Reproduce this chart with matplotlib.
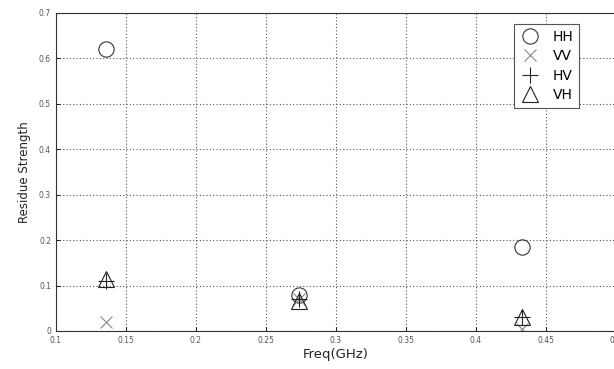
import matplotlib
matplotlib.use("Agg")
import matplotlib.pyplot as plt

freq = [0.136, 0.274, 0.433]
hh = [0.62, 0.08, 0.185]
vv = [0.02, 0.07, 0.005]
hv = [0.11, 0.07, 0.03]
vh = [0.115, 0.065, 0.03]

xticks = [0.1, 0.15, 0.2, 0.25, 0.3, 0.35, 0.4, 0.45, 0.5]
xlabels = ["0.1", "0.15", "0.2", "0.25", "0.3", "0.35", "0.4", "0.45", "0.5"]
yticks = [0, 0.1, 0.2, 0.3, 0.4, 0.5, 0.6, 0.7]
ylabels = ["0", "0.1", "0.2", "0.3", "0.4", "0.5", "0.6", "0.7"]

fig = plt.figure(figsize=(6.14, 3.69), dpi=100)
ax = fig.add_axes([0.091, 0.103, 0.912, 0.862])

ax.plot(freq, hh, linestyle="none", marker="o", ms=11, mfc="none", mec="#333333", mew=0.8, label="HH")
ax.plot(freq, vv, linestyle="none", marker="x", ms=8, color="#888888", mew=0.8, label="VV")
ax.plot(freq, hv, linestyle="none", marker="+", ms=11, color="#222222", mew=0.8, label="HV")
ax.plot(freq, vh, linestyle="none", marker="^", ms=11, mfc="none", mec="#222222", mew=0.8, label="VH")

ax.set_xlim(0.1, 0.5)
ax.set_ylim(0, 0.7)
ax.set_xticks(xticks)
ax.set_xticklabels(xlabels, fontsize=5.5, color="#555555")
ax.set_yticks(yticks)
ax.set_yticklabels(ylabels, fontsize=5.5, color="#555555")
ax.tick_params(direction="in", length=3, width=0.6)
ax.grid(True, linestyle=(0, (1, 2)), color="#555555", linewidth=0.8)
for s in ax.spines.values():
    s.set_linewidth(0.8)
    s.set_color("#333333")

ax.set_xlabel("Freq(GHz)", fontsize=9.5, color="#222222", labelpad=2)
ax.set_ylabel("Residue Strength", fontsize=8.5, color="#222222", labelpad=6)

leg = ax.legend(loc="upper left", bbox_to_anchor=(0.805, 0.987), fontsize=10, frameon=True,
                fancybox=False, edgecolor="#555555", handlelength=1.6, handletextpad=0.8,
                borderpad=0.4, labelspacing=0.4, markerscale=1.0, framealpha=1)
leg.get_frame().set_linewidth(0.8)

fig.savefig("out.png", dpi=100)
